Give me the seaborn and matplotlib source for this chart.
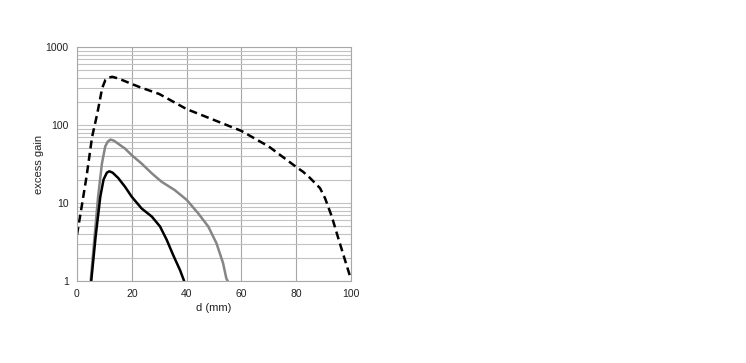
import matplotlib
matplotlib.use("Agg")
import matplotlib.pyplot as plt
import seaborn as sns
import numpy as np
import pandas as pd
from matplotlib.ticker import FixedLocator, NullFormatter, MultipleLocator

# ---- data ----
dash_d = [0, 1.8, 3.5, 5.5, 7.4, 9.2, 10.4, 11.5, 12.9, 14.5, 16.5, 20, 23, 30, 40,
          50, 60, 70, 80, 82.6, 85, 88.7, 90.5, 93, 95.4, 97.8, 100]
dash_g = [3.9, 9.4, 22, 70, 140, 298, 380, 405, 415, 400, 377, 336, 305, 250, 160,
          116, 84, 53, 29, 25, 21, 15.5, 11.6, 6.7, 3.5, 1.86, 1.05]

gray_d = [5.0, 6.5, 7.7, 9.1, 10.3, 11.2, 12.2, 13.5, 15.5, 17.5, 20, 23.6, 27.3,
          30.9, 35.6, 40, 44.2, 47.9, 50.9, 53.3, 54.5, 55.0]
gray_g = [1.0, 4.0, 12, 32, 53, 61, 65, 63, 56, 50, 41, 32, 24,
          18.7, 14.7, 11, 7.4, 5.0, 3.05, 1.7, 1.08, 1.0]

black_d = [5.2, 6.8, 8.5, 9.7, 10.9, 11.8, 13, 15, 17.5, 20, 23.6, 27.3, 30.3,
           32.7, 35.1, 37.6, 39.1]
black_g = [1.0, 3.7, 12, 20, 24.5, 25.5, 24.5, 21, 16.2, 12, 8.5, 6.7, 5.0,
           3.4, 2.15, 1.38, 1.0]

x_ticks = [0, 20, 40, 60, 80, 100]
y_ticks = [1, 10, 100, 1000]
y_ticklabels = ["1", "10", "100", "1000"]

sns.set_theme(style="white")
plt.rcParams['font.family'] = ['Liberation Sans', 'DejaVu Sans']

fig = plt.figure(figsize=(7.46, 3.63), dpi=100)
ax = fig.add_axes([0.1032, 0.2259, 0.3673, 0.6446])

grid_c = "#c2c2c2"
ax.set_yscale("log")
ax.set_xlim(0, 100)
ax.set_ylim(1, 1000)

# gridlines
minor_y = [m * 10 ** e for e in range(0, 3) for m in range(2, 10)]
ax.yaxis.set_minor_locator(FixedLocator(minor_y))
ax.yaxis.set_minor_formatter(NullFormatter())
ax.yaxis.set_major_locator(FixedLocator(y_ticks))
ax.set_yticklabels(y_ticklabels)
ax.set_xticks(x_ticks)
ax.xaxis.set_minor_locator(MultipleLocator(5))
ax.grid(True, which="major", axis="y", color=grid_c, lw=0.8)
ax.grid(True, which="major", axis="x", color="#a6a6a6", lw=0.8)
ax.grid(True, which="minor", axis="y", color=grid_c, lw=0.8)
ax.set_axisbelow(True)

df_dash = pd.DataFrame({"d": dash_d, "g": dash_g})
df_gray = pd.DataFrame({"d": gray_d, "g": gray_g})
df_black = pd.DataFrame({"d": black_d, "g": black_g})

sns.lineplot(data=df_dash, x="d", y="g", ax=ax, color="black", lw=1.8,
             linestyle=(0, (3.2, 1.8)), sort=False)
sns.lineplot(data=df_gray, x="d", y="g", ax=ax, color="#858585", lw=1.8, sort=False)
sns.lineplot(data=df_black, x="d", y="g", ax=ax, color="black", lw=1.8, sort=False)

for s in ax.spines.values():
    s.set_color("#a8a8a8")
    s.set_linewidth(0.8)

ax.tick_params(axis="both", which="major", length=0, labelsize=7.5, colors="#222222", pad=6)
ax.tick_params(axis="x", which="minor", direction="in", length=3, color="#c8c8c8", width=0.7)
ax.tick_params(axis="y", which="minor", length=0)

ax.set_xlabel("d (mm)", fontsize=8, color="#222222", labelpad=3)
ax.set_ylabel("excess gain", fontsize=8, color="#222222", labelpad=1)

fig.savefig("out.png", dpi=100, facecolor="white")
